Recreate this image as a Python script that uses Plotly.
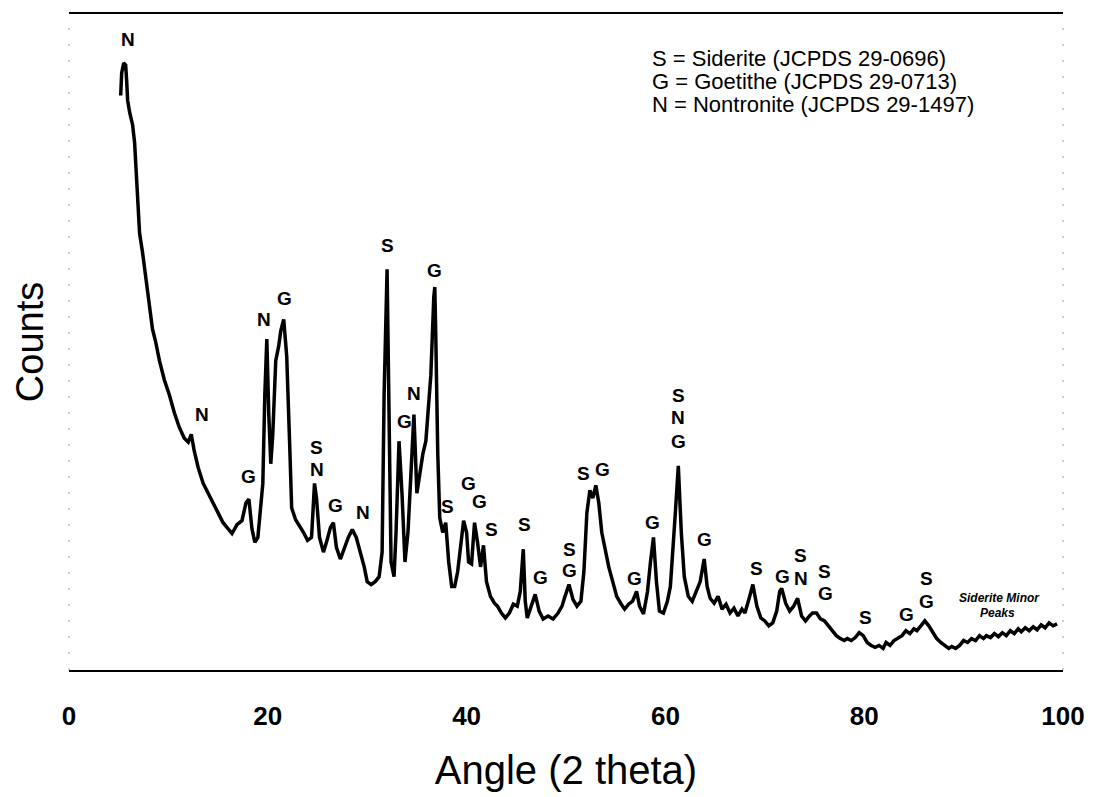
import plotly.graph_objects as go

# ---- data ----
two_theta = [5.2, 5.3, 5.5, 5.7, 5.8, 5.9, 6.1, 6.4, 6.6, 6.8, 6.9, 7.1, 7.4, 7.7, 8.1, 8.4, 8.7, 9.1, 9.6, 10.1,
             10.6, 11.1, 11.6, 12.0, 12.3, 12.6, 13.0, 13.5, 14.0, 14.5, 15.0, 15.5, 15.9, 16.4, 16.9, 17.4, 17.8, 18.1, 18.4, 18.7,
             19.0, 19.2, 19.5, 19.7, 19.9, 20.1, 20.3, 20.5, 20.8, 21.1, 21.3, 21.6, 21.9, 22.2, 22.4, 22.8, 23.2, 23.6, 24.0, 24.4,
             24.7, 24.9, 25.2, 25.6, 25.9, 26.3, 26.6, 26.9, 27.3, 27.7, 28.1, 28.5, 28.9, 29.3, 29.7, 30.0, 30.4, 30.8, 31.2, 31.5,
             31.7, 32.0, 32.2, 32.4, 32.7, 32.9, 33.2, 33.5, 33.8, 34.1, 34.4, 34.7, 35.0, 35.3, 35.6, 35.9, 36.1, 36.4, 36.7, 36.8,
             36.9, 37.1, 37.3, 37.6, 37.9, 38.2, 38.5, 38.8, 39.1, 39.4, 39.7, 40.0, 40.2, 40.5, 40.8, 41.1, 41.4, 41.7, 42.0, 42.4,
             42.8, 43.1, 43.5, 43.9, 44.3, 44.7, 45.1, 45.4, 45.7, 45.9, 46.1, 46.5, 46.9, 47.3, 47.7, 48.2, 48.7, 49.2, 49.6, 49.9,
             50.3, 50.7, 51.1, 51.5, 51.8, 52.1, 52.4, 52.7, 53.0, 53.3, 53.6, 53.9, 54.3, 54.7, 55.1, 55.5, 55.9, 56.3, 56.7, 57.1,
             57.4, 57.8, 58.2, 58.5, 58.8, 59.1, 59.4, 59.8, 60.2, 60.5, 60.7, 61.0, 61.3, 61.6, 61.9, 62.3, 62.7, 63.1, 63.5, 63.9,
             64.2, 64.5, 64.9, 65.3, 65.7, 66.1, 66.5, 66.9, 67.3, 67.7, 68.0, 68.4, 68.8, 69.2, 69.6, 70.0, 70.4, 70.8, 71.2, 71.5,
             71.7, 72.1, 72.5, 72.9, 73.3, 73.7, 74.1, 74.5, 74.8, 75.2, 75.6, 76.0, 76.4, 76.8, 77.2, 77.6, 78.0, 78.3, 78.7, 79.1,
             79.5, 79.9, 80.3, 80.7, 81.1, 81.5, 81.9, 82.2, 82.6, 83.0, 83.4, 83.8, 84.2, 84.6, 85.0, 85.3, 85.7, 86.1, 86.5, 86.9,
             87.3, 87.7, 88.1, 88.5, 88.8, 89.2, 89.6, 90.0, 90.4, 90.8, 91.2, 91.6, 92.0, 92.3, 92.7, 93.1, 93.5, 93.9, 94.3, 94.7,
             95.1, 95.5, 95.8, 96.2, 96.6, 97.0, 97.4, 97.8, 98.2, 98.6, 99.0, 99.4]

counts = [585, 608, 618, 616, 600, 580, 568, 555, 537, 500, 470, 445, 425, 402, 370, 347, 335, 315, 295, 280,
          262, 247, 236, 232, 240, 223, 206, 190, 180, 169, 160, 150, 145, 139, 148, 152, 170, 174, 144, 130,
          135, 160, 190, 280, 337, 260, 210, 240, 315, 330, 345, 357, 320, 230, 165, 153, 147, 140, 132, 135,
          190, 175, 135, 120, 130, 145, 150, 125, 113, 125, 135, 143, 135, 120, 105, 90, 87, 90, 95, 120,
          280, 408, 260, 110, 95, 140, 233, 180, 110, 140, 200, 260, 180, 200, 220, 233, 260, 300, 380, 390,
          340, 220, 155, 140, 150, 110, 85, 85, 100, 130, 152, 140, 110, 108, 150, 130, 105, 127, 90, 75,
          68, 65, 58, 53, 58, 67, 65, 80, 123, 70, 53, 65, 77, 60, 52, 55, 52, 58, 65, 75,
          87, 72, 65, 70, 100, 160, 183, 175, 188, 170, 140, 125, 105, 90, 75, 68, 62, 67, 70, 80,
          65, 57, 80, 110, 135, 90, 60, 58, 70, 85, 120, 160, 208, 140, 95, 75, 70, 80, 90, 113,
          85, 73, 68, 75, 62, 67, 58, 63, 55, 62, 58, 72, 87, 65, 53, 50, 45, 48, 60, 80,
          83, 68, 60, 65, 73, 55, 50, 55, 58, 58, 52, 50, 45, 40, 35, 32, 30, 32, 30, 33,
          38, 35, 28, 25, 23, 25, 22, 28, 25, 30, 32, 35, 40, 37, 42, 40, 45, 50, 45, 38,
          32, 28, 25, 22, 24, 22, 25, 30, 28, 32, 30, 35, 32, 35, 33, 37, 34, 38, 35, 40,
          37, 42, 39, 43, 40, 44, 41, 46, 43, 48, 45, 47]

# peak labels: (phase letter, 2-theta, counts position)
peak_letters = ["N", "N", "G", "N", "G", "S", "N", "G", "N", "S", "G", "N", "G",
                "S", "G", "G", "S", "S", "G", "S", "G", "S", "G", "G", "G",
                "S", "N", "G", "G", "S", "G", "S", "N", "S", "G", "S", "G", "S", "G"]
peak_x = [5.9, 13.4, 18.1, 19.6, 21.7, 24.9, 24.9, 26.8, 29.6, 32.0, 33.8, 34.7, 36.8,
          38.1, 40.2, 41.3, 42.5, 45.8, 47.4, 50.4, 50.4, 51.8, 53.7, 56.9, 58.7,
          61.3, 61.3, 61.3, 63.9, 69.2, 71.8, 73.6, 73.6, 76.0, 76.1, 80.1, 84.3, 86.3, 86.3]
peak_y = [642, 260, 197, 357, 378, 227, 204, 168, 160, 432, 253, 282, 407,
          167, 190, 172, 143, 148, 94, 123, 101, 200, 204, 93, 150,
          280, 257, 233, 133, 103, 95, 117, 93, 100, 78, 53, 57, 93, 70]

legend_lines = ["S = Siderite (JCPDS 29-0696)",
                "G = Goetithe (JCPDS 29-0713)",
                "N = Nontronite (JCPDS 29-1497)"]
tick_vals = [0, 20, 40, 60, 80, 100]

FONT = "Liberation Sans, Arial, sans-serif"

fig = go.Figure()
fig.add_trace(go.Scatter(x=two_theta, y=counts, mode="lines",
                         line=dict(color="black", width=3.5), hoverinfo="skip"))

annotations = []
for t, xv, yv in zip(peak_letters, peak_x, peak_y):
    annotations.append(dict(x=xv, y=yv, text="<b>%s</b>" % t, showarrow=False,
                            font=dict(family=FONT, size=19, color="black"),
                            xanchor="center", yanchor="middle"))

legend_y = [623, 599.5, 576]
for txt, yv in zip(legend_lines, legend_y):
    annotations.append(dict(x=58.4, y=yv, text=txt, showarrow=False,
                            font=dict(family=FONT, size=22, color="black"),
                            xanchor="left", yanchor="middle"))

annotations.append(dict(x=93.6, y=73, text="<b><i>Siderite Minor</i></b>", showarrow=False,
                        font=dict(family=FONT, size=12, color="black"), xanchor="center", yanchor="middle"))
annotations.append(dict(x=93.4, y=58, text="<b><i>Peaks</i></b>", showarrow=False,
                        font=dict(family=FONT, size=12, color="black"), xanchor="center", yanchor="middle"))

shapes = [
    dict(type="line", xref="paper", yref="paper", x0=0, x1=0, y0=0, y1=1,
         line=dict(color="#999999", width=1, dash="2px,14px")),
    dict(type="line", xref="paper", yref="paper", x0=1, x1=1, y0=0, y1=1,
         line=dict(color="#999999", width=1, dash="2px,14px")),
]

fig.update_layout(
    width=1097, height=797,
    margin=dict(l=69, r=28, t=12, b=117),
    paper_bgcolor="white", plot_bgcolor="white",
    showlegend=False,
    annotations=annotations,
    shapes=shapes,
    xaxis=dict(range=[0, 100], tickvals=tick_vals, ticktext=["<b>%d</b>" % v for v in tick_vals],
               tickfont=dict(family=FONT, size=26, color="black"),
               showgrid=False, zeroline=False, showline=True, mirror=True,
               linecolor="black", linewidth=2, ticks="", ticklabelstandoff=22,
               title=dict(text="Angle (2 theta)", font=dict(family=FONT, size=40, color="black"),
                          standoff=26)),
    yaxis=dict(range=[0, 668], showticklabels=False, showgrid=False, zeroline=False,
               showline=False, ticks="",
               title=dict(text="Counts", font=dict(family=FONT, size=38, color="black"),
                          standoff=12)),
)

fig.write_html("out.html")
